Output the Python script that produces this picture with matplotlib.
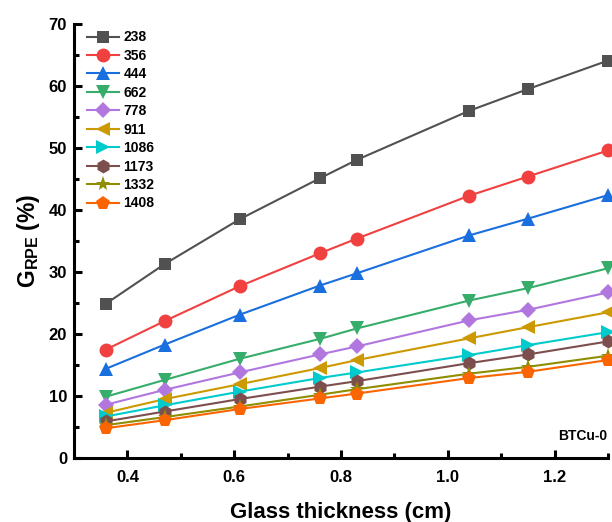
import matplotlib
matplotlib.use("Agg")
import matplotlib.pyplot as plt
from matplotlib.ticker import MultipleLocator

plt.rcParams['font.family'] = ['Liberation Sans', 'DejaVu Sans']
plt.rcParams['font.weight'] = 'bold'
plt.rcParams['mathtext.fontset'] = 'custom'
plt.rcParams['mathtext.rm'] = 'Liberation Sans:bold'
plt.rcParams['mathtext.bf'] = 'Liberation Sans:bold'
plt.rcParams['mathtext.it'] = 'Liberation Sans:bold'

thickness = [0.36, 0.47, 0.61, 0.76, 0.83, 1.04, 1.15, 1.30]
energies = ['238', '356', '444', '662', '778', '911', '1086', '1173', '1332', '1408']
g238 = [24.9, 31.3, 38.5, 45.1, 48.1, 56.0, 59.5, 64.1]
g356 = [17.5, 22.1, 27.7, 33.0, 35.4, 42.3, 45.4, 49.6]
g444 = [14.4, 18.3, 23.1, 27.8, 29.8, 35.9, 38.6, 42.4]
g662 = [9.9, 12.6, 16.0, 19.2, 20.9, 25.4, 27.4, 30.6]
g778 = [8.6, 11.0, 13.8, 16.7, 18.0, 22.2, 23.9, 26.7]
g911 = [7.3, 9.5, 11.9, 14.5, 15.8, 19.3, 21.1, 23.5]
g1086 = [6.7, 8.5, 10.7, 12.9, 13.8, 16.6, 18.2, 20.3]
g1173 = [5.9, 7.5, 9.5, 11.5, 12.4, 15.3, 16.7, 18.8]
g1332 = [5.3, 6.6, 8.3, 10.2, 11.1, 13.6, 14.7, 16.5]
g1408 = [4.8, 6.1, 7.9, 9.6, 10.4, 12.9, 13.9, 15.8]
series = [g238, g356, g444, g662, g778, g911, g1086, g1173, g1332, g1408]

colors = ['#515151', '#F14040', '#1A6FDF', '#37AD6B', '#B177DE',
          '#CC9900', '#00CBCC', '#7D4E4E', '#8E8E00', '#FB6501']
markers = ['s', 'o', '^', 'v', 'D', '<', '>', 'h', '*', 'p']
msizes = [9, 10, 10, 10, 8.5, 10, 10, 10, 11, 10.5]

fig = plt.figure(figsize=(6.12, 5.22), dpi=100)
ax = fig.add_axes([74/612, 64/522, (608-74)/612, (458-24)/522])

for lab, ys, c, m, ms in zip(energies, series, colors, markers, msizes):
    ax.plot(thickness, ys, color=c, marker=m, markersize=ms, linewidth=1.5,
            markeredgewidth=0, label=lab, clip_on=False)

ax.set_xlim(0.3, 1.3)
ax.set_ylim(0, 70)
ax.xaxis.set_major_locator(MultipleLocator(0.2))
ax.xaxis.set_minor_locator(MultipleLocator(0.1))
ax.yaxis.set_major_locator(MultipleLocator(10))
ax.yaxis.set_minor_locator(MultipleLocator(5))
ax.set_xticks([0.4, 0.6, 0.8, 1.0, 1.2])
ax.set_xticklabels(['0.4', '0.6', '0.8', '1.0', '1.2'])

for s in ['top', 'right']:
    ax.spines[s].set_visible(False)
for s in ['left', 'bottom']:
    ax.spines[s].set_linewidth(2.2)

ax.tick_params(which='major', direction='in', length=6, width=2.2,
               labelsize=12, pad=9)
ax.tick_params(axis='y', which='major', pad=5)
ax.tick_params(which='minor', direction='in', length=3.5, width=2.2)
for lbl in ax.get_xticklabels() + ax.get_yticklabels():
    lbl.set_fontweight('bold')

ax.set_xlabel('Glass thickness (cm)', fontsize=16, fontweight='bold', labelpad=12)
ax.set_ylabel(r'$\mathrm{G_{RPE}}$ (%)', fontsize=16.5, fontweight='bold', labelpad=5)

leg = ax.legend(loc='upper left', bbox_to_anchor=(7/534, 0.998), frameon=False,
                fontsize=10, handlelength=2.3, handletextpad=0.35,
                labelspacing=0.32, borderaxespad=0.0)
for t in leg.get_texts():
    t.set_fontweight('bold')

ax.text(0.998, 0.035, 'BTCu-0', transform=ax.transAxes, ha='right', va='bottom',
        fontsize=10, fontweight='bold')

fig.savefig('out.png', dpi=100)
